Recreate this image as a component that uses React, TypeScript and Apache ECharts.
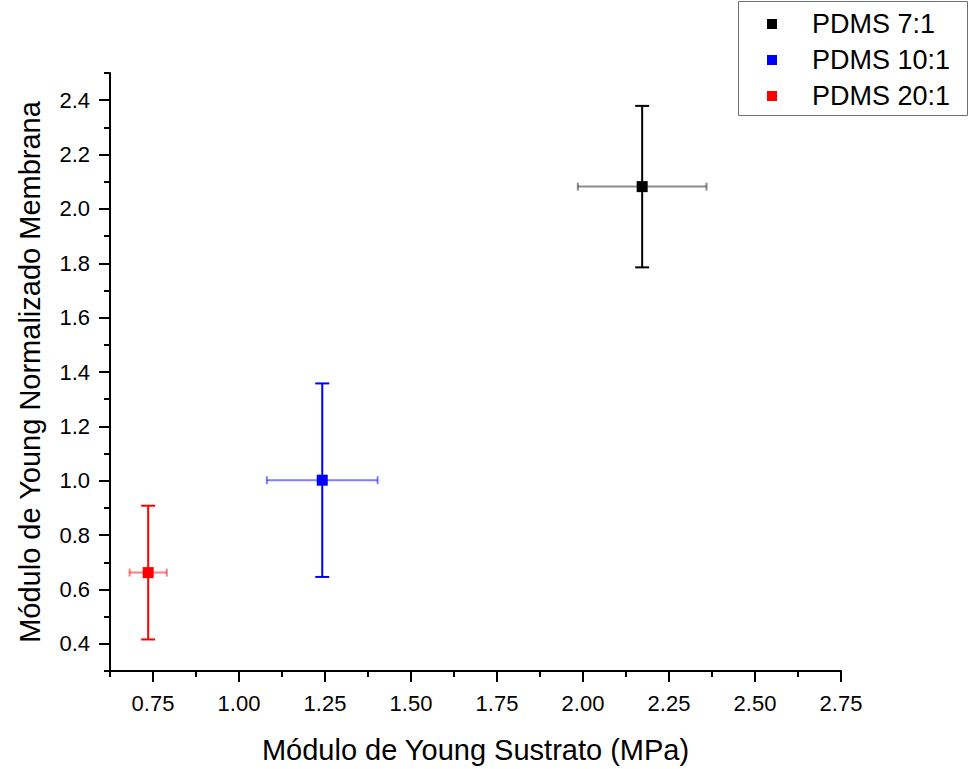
import React, { useEffect, useRef } from "react";
import * as echarts from "echarts";

const seriesNames = ["PDMS 7:1", "PDMS 10:1", "PDMS 20:1"];
const seriesColors = ["#000000", "#0000ff", "#ff0000"];
const seriesLightColors = ["rgba(0,0,0,0.45)", "rgba(0,0,255,0.5)", "rgba(255,0,0,0.5)"];
const xValues = [2.172, 1.242, 0.736];
const yValues = [2.082, 1.002, 0.662];
const xErrors = [0.187, 0.161, 0.054];
const yErrors = [0.297, 0.356, 0.246];

const xMajorTicks = [0.75, 1.0, 1.25, 1.5, 1.75, 2.0, 2.25, 2.5, 2.75];
const xMinorTicks = [0.625, 0.875, 1.125, 1.375, 1.625, 1.875, 2.125, 2.375, 2.625];
const yMajorTicks = [0.4, 0.6, 0.8, 1.0, 1.2, 1.4, 1.6, 1.8, 2.0, 2.2, 2.4];
const yMinorTicks = [0.3, 0.5, 0.7, 0.9, 1.1, 1.3, 1.5, 1.7, 1.9, 2.1, 2.3, 2.5];

const xTitle = "Módulo de Young Sustrato (MPa)";
const yTitle = "Módulo de Young Normalizado Membrana";

const FONT = "'Liberation Sans', Arial, sans-serif";
const X_MIN = 0.625;
const X_MAX = 2.75;
const Y_MIN = 0.3;
const Y_MAX = 2.5;

export default function App() {
  const ref = useRef<HTMLDivElement>(null);

  useEffect(() => {
    document.body.style.margin = "0";
    const chart = echarts.init(ref.current!, null, { renderer: "svg" });

    const axisLine = { show: true, onZero: false, lineStyle: { color: "#000", width: 2 } };

    const scatterSeries = seriesNames.map((name, i) => ({
      name,
      type: "scatter",
      xAxisIndex: 0,
      yAxisIndex: 0,
      symbol: "rect",
      symbolSize: 11,
      z: 5,
      itemStyle: { color: seriesColors[i], opacity: 1 },
      data: [[xValues[i], yValues[i]]],
    }));

    const errorSeries = seriesNames.map((name, i) => ({
      name: name + " error",
      type: "custom",
      xAxisIndex: 0,
      yAxisIndex: 0,
      z: 3,
      encode: { x: 0, y: 1 },
      data: [[xValues[i], yValues[i], xErrors[i], yErrors[i]]],
      renderItem: (params: any, api: any) => {
        const x = api.value(0);
        const y = api.value(1);
        const ex = api.value(2);
        const ey = api.value(3);
        const c = api.coord([x, y]);
        const l = api.coord([x - ex, y]);
        const r = api.coord([x + ex, y]);
        const t = api.coord([x, y + ey]);
        const b = api.coord([x, y - ey]);
        const hc = 4;
        const vc = 7;
        const light = { stroke: seriesLightColors[i], lineWidth: 2 };
        const solid = { stroke: seriesColors[i], lineWidth: 2 };
        return {
          type: "group",
          children: [
            { type: "line", shape: { x1: l[0], y1: c[1], x2: r[0], y2: c[1] }, style: light },
            { type: "line", shape: { x1: l[0], y1: c[1] - hc, x2: l[0], y2: c[1] + hc }, style: light },
            { type: "line", shape: { x1: r[0], y1: c[1] - hc, x2: r[0], y2: c[1] + hc }, style: light },
            { type: "line", shape: { x1: c[0], y1: t[1], x2: c[0], y2: b[1] }, style: solid },
            { type: "line", shape: { x1: c[0] - vc, y1: t[1], x2: c[0] + vc, y2: t[1] }, style: solid },
            { type: "line", shape: { x1: c[0] - vc, y1: b[1], x2: c[0] + vc, y2: b[1] }, style: solid },
          ],
        };
      },
    }));

    chart.setOption({
      animation: false,
      backgroundColor: "#ffffff",
      textStyle: { fontFamily: FONT },
      grid: { left: 110, right: 129, top: 73, bottom: 97, containLabel: false },
      xAxis: [
        {
          type: "value",
          min: X_MIN,
          max: X_MAX,
          position: "bottom",
          name: xTitle,
          nameLocation: "middle",
          nameGap: 64,
          nameTextStyle: { fontSize: 29, color: "#000", fontFamily: FONT },
          axisLine,
          splitLine: { show: false },
          axisTick: {
            show: true,
            inside: false,
            length: 11,
            lineStyle: { color: "#000", width: 2 },
            customValues: xMajorTicks,
          },
          axisLabel: {
            show: true,
            margin: 21,
            fontSize: 22,
            color: "#000",
            fontFamily: FONT,
            customValues: xMajorTicks,
            formatter: (v: number) => v.toFixed(2),
          },
        },
        {
          type: "value",
          min: X_MIN,
          max: X_MAX,
          position: "bottom",
          axisLine: { show: false },
          splitLine: { show: false },
          axisTick: {
            show: true,
            inside: false,
            length: 6,
            lineStyle: { color: "#000", width: 2 },
            customValues: xMinorTicks,
          },
          axisLabel: { show: false },
        },
      ],
      yAxis: [
        {
          type: "value",
          min: Y_MIN,
          max: Y_MAX,
          position: "left",
          name: yTitle,
          nameLocation: "middle",
          nameRotate: 90,
          nameGap: 66,
          nameTextStyle: { fontSize: 29, color: "#000", fontFamily: FONT },
          axisLine,
          splitLine: { show: false },
          axisTick: {
            show: true,
            inside: false,
            length: 11,
            lineStyle: { color: "#000", width: 2 },
            customValues: yMajorTicks,
          },
          axisLabel: {
            show: true,
            margin: 20,
            fontSize: 22,
            color: "#000",
            fontFamily: FONT,
            customValues: yMajorTicks,
            formatter: (v: number) => v.toFixed(1),
          },
        },
        {
          type: "value",
          min: Y_MIN,
          max: Y_MAX,
          position: "left",
          axisLine: { show: false },
          splitLine: { show: false },
          axisTick: {
            show: true,
            inside: false,
            length: 6,
            lineStyle: { color: "#000", width: 2 },
            customValues: yMinorTicks,
          },
          axisLabel: { show: false },
        },
      ],
      legend: {
        data: seriesNames,
        orient: "vertical",
        left: 767,
        top: 9,
        padding: 0,
        itemGap: 6,
        itemWidth: 10,
        itemHeight: 10,
        icon: "rect",
        selectedMode: false,
        textStyle: {
          fontSize: 27,
          color: "#000",
          fontFamily: FONT,
          lineHeight: 30,
          padding: [0, 0, 0, 30],
        },
      },
      graphic: [
        {
          type: "rect",
          shape: { x: 738.5, y: 1.5, width: 229, height: 114 },
          style: { fill: "none", stroke: "#707070", lineWidth: 1 },
          z: 0,
        },
      ],
      series: [...errorSeries, ...scatterSeries],
    });

    return () => chart.dispose();
  }, []);

  return (
    <div
      ref={ref}
      style={{ position: "absolute", left: 0, top: 0, width: 970, height: 769 }}
    />
  );
}
